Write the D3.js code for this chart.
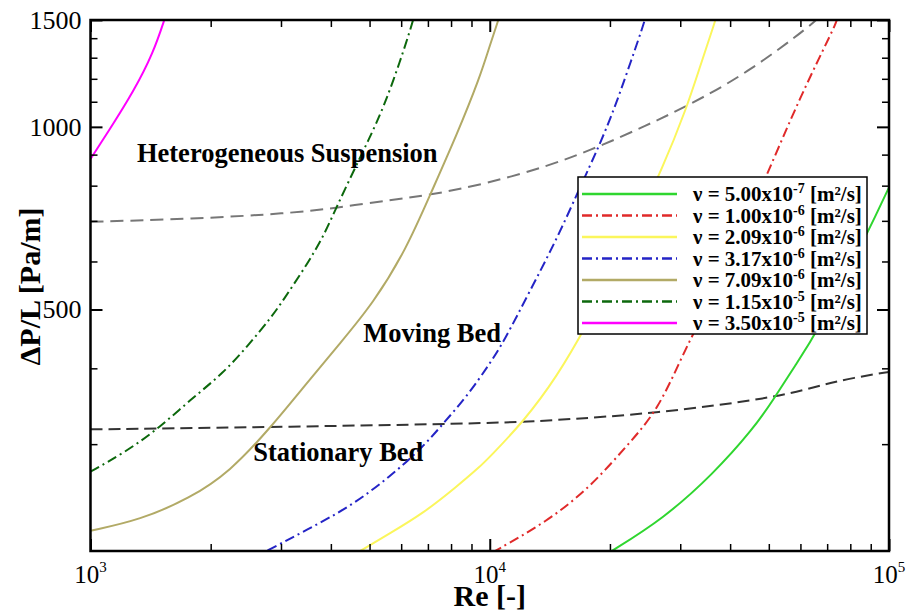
<!DOCTYPE html>
<html>
<head>
<meta charset="utf-8">
<script src="https://cdn.jsdelivr.net/npm/d3@7"></script>
<style>
body { margin: 0; background: #fff; }
svg text { font-family: "Liberation Serif", "Times New Roman", serif; fill: #000; }
</style>
</head>
<body>
<svg id="chart" width="909" height="614"></svg>
<script>
// viscosity legend labels
var nuMantissa = ["5.00", "1.00", "2.09", "3.17", "7.09", "1.15", "3.50"];
var nuExponent = ["-7", "-6", "-6", "-6", "-6", "-5", "-5"];

// Re and dP/L
var re_nu1 = [17830, 20210, 27210, 36310, 45720, 51310, 58140, 65900, 88750, 100000];
var dp_nu1 = [190, 200, 226, 268, 318, 355, 404, 457, 672, 795];

var re_nu2 = [9185, 10310, 13890, 17830, 22030, 26430, 30530, 35620, 43160, 51310, 59840, 68460, 73960, 74950];
var dp_nu2 = [191.6, 200, 223.4, 254.6, 297.9, 341.5, 424.0, 516.1, 679.1, 882.6, 1116, 1341, 1489, 1540];

var re_nu3 = [4216, 4732, 5626, 6817, 8265, 9453, 10010, 12130, 14720, 17490, 20390, 23340, 26960, 31130, 33620, 36660, 37090];
var dp_nu3 = [191.2, 200, 213.9, 230.8, 255.3, 275.4, 286.0, 326.4, 387.0, 471.0, 573.2, 697.1, 848.4, 1074, 1257, 1489, 1535];

var re_nu4 = [2509, 2788, 3479, 4467, 5626, 6817, 7651, 8754, 10010, 10810, 12610, 14720, 16830, 18700, 20390, 22030, 24250, 24550];
var dp_nu4 = [193.6, 200.7, 216.6, 236.6, 265.1, 297.1, 324.7, 359.1, 407.6, 441.0, 536.6, 653.2, 794.9, 923.6, 1060, 1224, 1470, 1517];

var re_nu5 = [1000, 1331, 1775, 2235, 2816, 3479, 4216, 5109, 6194, 7085, 8265, 9453, 10010, 10510, 10640];
var dp_nu5 = [216.0, 225.0, 244.3, 270.2, 318.6, 378.0, 439.8, 512.0, 630.6, 772.0, 969.6, 1208, 1364, 1500, 1540];

var re_nu6 = [1000, 1208, 1465, 1775, 2150, 2509, 2843, 3030, 3479, 3829, 4137, 4552, 4947, 5413, 5959, 6412, 6479];
var dp_nu6 = [270.2, 289.8, 316.5, 354.6, 392.5, 439.8, 486.6, 516.5, 592.2, 659.1, 738.6, 843.6, 945.2, 1073, 1280, 1487, 1535];

var re_nu7 = [1000, 1119, 1280, 1437, 1545];
var dp_nu7 = [885, 992, 1142, 1323, 1529];

// regime boundaries
var re_stationary = [1000, 3160, 10000, 13890, 26430, 51310, 64620, 78370, 100000];
var dp_stationary = [317.3, 320.4, 324.7, 327.7, 337.3, 357.6, 372.0, 384.4, 394.6];

var re_hetero = [1000, 1775, 3160, 4137, 5626, 7085, 9730, 13890, 18530, 24730, 31130, 44010, 64620, 67170];
var dp_hetero = [697.6, 704.8, 720.2, 735.7, 757.5, 772.0, 805.2, 859.8, 923.6, 1006, 1081, 1224, 1480, 1523];

var regionLabels = ["Heterogeneous Suspension", "Moving Bed", "Stationary Bed"];
var regionRe = [1307, 4824, 2557];
var regionDp = [876, 442.5, 281.7];

var xMajor = [1e3, 1e4, 1e5];
var xExp = ["3", "4", "5"];
var xMinor = [2e3, 3e3, 4e3, 5e3, 6e3, 7e3, 8e3, 9e3, 2e4, 3e4, 4e4, 5e4, 6e4, 7e4, 8e4, 9e4];
var yMajor = [500, 1000, 1500];
var yMinor = [300, 400, 600, 700, 800, 900, 1100, 1200, 1300, 1400];

var seriesColors = ["#2fd62f", "#e02a2a", "#fbf65c", "#2424c6", "#b2aa66", "#0c680c", "#ff00ff"];
var seriesDash = [null, "10,4,2,4", null, "10,4,2,4", null, "10,4,2,4", null];

var margin = {top: 20, right: 20, bottom: 63, left: 90.5},
  width = 909 - margin.left - margin.right,
  height = 614 - margin.top - margin.bottom;

var svg = d3.select("#chart");

var x = d3.scaleLog().domain([1e3, 1e5]).range([margin.left, margin.left + width]);
var y = d3.scaleLog().domain([200, 1500]).range([margin.top + height, margin.top]);

function zipSeries(re, dp) {
  return re.map(function(r, i) { return {re: r, dp: dp[i]}; });
}

var series = [
  zipSeries(re_nu1, dp_nu1), zipSeries(re_nu2, dp_nu2), zipSeries(re_nu3, dp_nu3),
  zipSeries(re_nu4, dp_nu4), zipSeries(re_nu5, dp_nu5), zipSeries(re_nu6, dp_nu6),
  zipSeries(re_nu7, dp_nu7)
];

svg.append("defs").append("clipPath").attr("id", "plotClip")
  .append("rect")
  .attr("x", margin.left).attr("y", margin.top)
  .attr("width", width).attr("height", height);

// basis spline smooths out reading noise
var line = d3.line()
  .x(function(d) { return x(d.re); })
  .y(function(d) { return y(d.dp); })
  .curve(d3.curveBasis);

var plot = svg.append("g").attr("clip-path", "url(#plotClip)");

// boundaries between flow regimes
plot.append("path")
  .datum(zipSeries(re_hetero, dp_hetero))
  .attr("d", line)
  .attr("fill", "none")
  .attr("stroke", "#777")
  .attr("stroke-width", 2)
  .attr("stroke-dasharray", "13,7");

plot.append("path")
  .datum(zipSeries(re_stationary, dp_stationary))
  .attr("d", line)
  .attr("fill", "none")
  .attr("stroke", "#333")
  .attr("stroke-width", 2)
  .attr("stroke-dasharray", "12,6");

plot.selectAll(".curve")
  .data(series)
  .enter()
  .append("path")
  .attr("class", "curve")
  .attr("d", line)
  .attr("fill", "none")
  .attr("stroke", function(d, i) { return seriesColors[i]; })
  .attr("stroke-width", 2)
  .attr("stroke-dasharray", function(d, i) { return seriesDash[i]; });

// axes, ticks pointing inward
function tickAxis(axis, size, values, transform, sw) {
  var g = svg.append("g")
    .attr("transform", transform)
    .call(axis.tickValues(values).tickSize(size).tickFormat(""));
  g.select(".domain").remove();
  g.selectAll("line").attr("stroke", "#000").attr("stroke-width", sw);
  return g;
}

tickAxis(d3.axisBottom(x), -12, xMajor, "translate(0," + (margin.top + height) + ")", 2);
tickAxis(d3.axisBottom(x), -7, xMinor, "translate(0," + (margin.top + height) + ")", 1.5);
tickAxis(d3.axisTop(x), -12, xMajor, "translate(0," + margin.top + ")", 2);
tickAxis(d3.axisTop(x), -7, xMinor, "translate(0," + margin.top + ")", 1.5);
tickAxis(d3.axisLeft(y), -12, yMajor, "translate(" + margin.left + ",0)", 2);
tickAxis(d3.axisLeft(y), -7, yMinor, "translate(" + margin.left + ",0)", 1.5);
tickAxis(d3.axisRight(y), -12, yMajor, "translate(" + (margin.left + width) + ",0)", 2);
tickAxis(d3.axisRight(y), -7, yMinor, "translate(" + (margin.left + width) + ",0)", 1.5);

svg.append("rect")
  .attr("x", margin.left).attr("y", margin.top)
  .attr("width", width).attr("height", height)
  .attr("fill", "none")
  .attr("stroke", "#000")
  .attr("stroke-width", 2.5);

// tick labels
svg.selectAll(".ylab")
  .data(yMajor)
  .enter()
  .append("text")
  .attr("class", "ylab")
  .attr("x", margin.left - 9)
  .attr("y", function(d) { return y(d); })
  .attr("dy", "0.34em")
  .attr("text-anchor", "end")
  .style("font-size", "26px")
  .text(function(d) { return d; });

var xl = svg.selectAll(".xlab")
  .data(xMajor)
  .enter()
  .append("text")
  .attr("class", "xlab")
  .attr("x", function(d) { return x(d); })
  .attr("y", 583)
  .attr("text-anchor", "middle")
  .style("font-size", "25px");
xl.append("tspan").text("10");
xl.append("tspan")
  .attr("dy", -11)
  .style("font-size", "15px")
  .text(function(d, i) { return xExp[i]; });

// axis titles
svg.append("text")
  .attr("x", margin.left + width / 2)
  .attr("y", 606)
  .attr("text-anchor", "middle")
  .style("font-size", "30px")
  .style("font-weight", "bold")
  .text("Re [-]");

svg.append("text")
  .attr("transform", "translate(40," + (margin.top + height / 2 + 1) + ") rotate(-90)")
  .attr("text-anchor", "middle")
  .style("font-size", "30px")
  .style("font-weight", "bold")
  .text("\u0394P/L [Pa/m]");

// regime labels
svg.selectAll(".region")
  .data(regionLabels)
  .enter()
  .append("text")
  .attr("class", "region")
  .attr("x", function(d, i) { return x(regionRe[i]); })
  .attr("y", function(d, i) { return y(regionDp[i]); })
  .style("font-size", "26.5px")
  .style("font-weight", "bold")
  .text(function(d) { return d; });

// legend
var legend = svg.append("g").attr("transform", "translate(578,177)");
legend.append("rect")
  .attr("width", 289).attr("height", 157)
  .attr("fill", "#fff")
  .attr("stroke", "#000")
  .attr("stroke-width", 1.5);

var rows = legend.selectAll(".row")
  .data(nuMantissa)
  .enter()
  .append("g")
  .attr("class", "row")
  .attr("transform", function(d, i) { return "translate(0," + (17 + i * 21.5) + ")"; });

rows.append("line")
  .attr("x1", 4).attr("x2", 99)
  .attr("stroke", function(d, i) { return seriesColors[i]; })
  .attr("stroke-width", 2.5)
  .attr("stroke-dasharray", function(d, i) { return seriesDash[i]; });

var lt = rows.append("text")
  .attr("x", 115)
  .attr("y", 7)
  .style("font-size", "21px")
  .style("font-weight", "bold");
lt.append("tspan").text(function(d) { return "\u03bd = " + d + "x10"; });
lt.append("tspan")
  .attr("dy", -8)
  .style("font-size", "14px")
  .text(function(d, i) { return nuExponent[i]; });
lt.append("tspan")
  .attr("dy", 8)
  .text(" [m\u00b2/s]");
</script>
</body>
</html>
